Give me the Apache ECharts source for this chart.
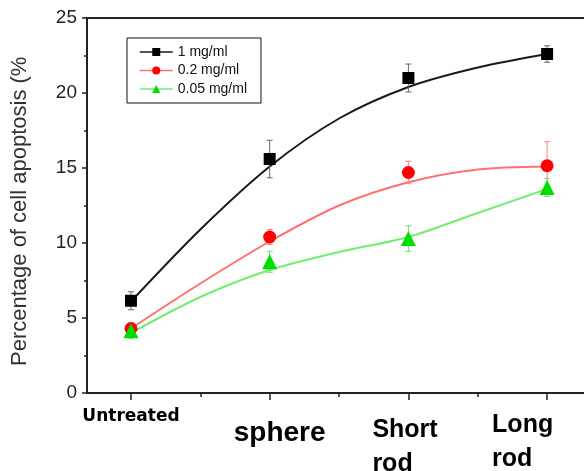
<!DOCTYPE html>
<html>
<head>
<meta charset="utf-8">
<script src="https://cdn.jsdelivr.net/npm/echarts@6/dist/echarts.min.js"></script>
<style>
  html, body { margin: 0; padding: 0; background: #fff; }
  #chart { width: 584px; height: 471px; }
</style>
</head>
<body>
<div id="chart"></div>
<script>
// category labels on the x axis (positions 0..3)
const categories = ['Untreated', 'sphere', 'Short\nrod', 'Long\nrod']
const concNames = ['1 mg/ml', '0.2 mg/ml', '0.05 mg/ml']

// measured means and error (± sd)
const mean1 = [6.15, 15.6, 21.0, 22.6]
const err1 = [0.6, 1.25, 0.93, 0.55]
const mean02 = [4.3, 10.4, 14.7, 15.15]
const err02 = [0.3, 0.5, 0.75, 1.6]
const mean005 = [4.15, 8.75, 10.3, 13.7]
const err005 = [0.5, 0.7, 0.85, 0.6]

// fitted curves, at half-category steps
const fitX = [0, 0.5, 1, 1.5, 2, 2.5, 3]
const fit1 = [6.1, 10.9, 15.1, 18.3, 20.4, 21.7, 22.6]
const fit02 = [4.3, 7.3, 10.1, 12.5, 14.05, 14.9, 15.1]
const fit005 = [4.0, 6.4, 8.2, 9.4, 10.4, 12.0, 13.6]

const majorTicks = [0, 1, 2, 3]
const minorTicks = [0.5, 1.5, 2.5]

const chart = echarts.init(document.getElementById('chart'))

const pts = arr => arr.map((v, i) => [i, v])
const fitPts = arr => arr.map((v, i) => [fitX[i], v])
const errs = (m, e) => m.map((v, i) => [i, v - e[i], v + e[i]])

const errorBar = color => (params, api) => {
  const x = api.value(0)
  const hi = api.coord([x, api.value(2)])
  const lo = api.coord([x, api.value(1)])
  const w = 3
  const st = { stroke: color, lineWidth: 1 }
  return {
    type: 'group',
    children: [
      { type: 'line', shape: { x1: hi[0], y1: hi[1], x2: lo[0], y2: lo[1] }, style: st },
      { type: 'line', shape: { x1: hi[0] - w, y1: hi[1], x2: hi[0] + w, y2: hi[1] }, style: st },
      { type: 'line', shape: { x1: lo[0] - w, y1: lo[1], x2: lo[0] + w, y2: lo[1] }, style: st }
    ]
  }
}

const groups = [
  { name: concNames[0], mean: mean1, err: err1, fit: fit1, symbol: 'rect', size: 12, color: '#000', line: '#1a1a1a', bar: '#666' },
  { name: concNames[1], mean: mean02, err: err02, fit: fit02, symbol: 'circle', size: 13, color: '#ff0000', line: '#ff7070', bar: '#ff8080' },
  { name: concNames[2], mean: mean005, err: err005, fit: fit005, symbol: 'triangle', size: 15, color: '#00dd00', line: '#70ee70', bar: '#70e070' }
]

const series = []
groups.forEach(g => {
  series.push({
    name: g.name,
    type: 'line',
    data: pts(g.mean),
    symbol: g.symbol,
    symbolSize: g.size,
    itemStyle: { color: g.color },
    lineStyle: { opacity: 0 },
    z: 5
  })
})
groups.forEach(g => {
  series.push({
    name: 'fit ' + g.name,
    type: 'line',
    data: fitPts(g.fit),
    smooth: 0.3,
    symbol: 'none',
    lineStyle: { color: g.line, width: 2 },
    silent: true,
    z: 2
  })
  series.push({
    name: 'err ' + g.name,
    type: 'custom',
    data: errs(g.mean, g.err),
    encode: { x: 0, y: [1, 2] },
    renderItem: errorBar(g.bar),
    silent: true,
    z: 3
  })
})

const xMin = -0.317
const xMax = 3.266

chart.setOption({
  animation: false,
  textStyle: { fontFamily: 'Liberation Sans' },
  grid: { left: 87, right: 0, top: 18, bottom: 78 },
  legend: {
    orient: 'vertical',
    left: 127,
    top: 38,
    padding: [7, 14, 7, 12],
    itemGap: 4.5,
    itemWidth: 33,
    itemHeight: 10,
    borderColor: '#111',
    borderWidth: 1,
    textStyle: { fontSize: 14, color: '#111', fontFamily: 'Liberation Sans' },
    data: groups.map(g => ({
      name: g.name,
      lineStyle: { color: g.line, width: 1.5, opacity: 1 }
    }))
  },
  xAxis: [
    {
      type: 'value',
      min: xMin,
      max: xMax,
      axisLine: { onZero: false, lineStyle: { color: '#222', width: 2 } },
      axisTick: { customValues: majorTicks, length: 7, lineStyle: { color: '#222', width: 1.5 } },
      axisLabel: { show: false },
      splitLine: { show: false }
    },
    {
      type: 'value',
      position: 'bottom',
      min: xMin,
      max: xMax,
      axisLine: { show: false },
      axisTick: { customValues: minorTicks, length: 4, lineStyle: { color: '#222', width: 1.5 } },
      axisLabel: { show: false },
      splitLine: { show: false }
    },
    {
      type: 'value',
      position: 'top',
      min: xMin,
      max: xMax,
      axisLine: { onZero: false, lineStyle: { color: '#222', width: 2 } },
      axisTick: { show: false },
      axisLabel: { show: false },
      splitLine: { show: false }
    }
  ],
  yAxis: {
    type: 'value',
    min: 0,
    max: 25,
    interval: 5,
    axisLine: { show: true, onZero: false, lineStyle: { color: '#222', width: 2 } },
    axisTick: { show: true, length: 5, lineStyle: { color: '#222', width: 1.5 } },
    minorTick: { show: true, splitNumber: 2, length: 3, lineStyle: { color: '#222', width: 1.5 } },
    axisLabel: { fontSize: 19, color: '#222', margin: 10 },
    splitLine: { show: false }
  },
  series
})

// tick labels drawn under the category positions
const labelStyles = [
  { font: 'bold 17px "DejaVu Sans"', dx: 0, top: 408, align: 'center', lh: 17 },
  { font: 'bold 28px "Liberation Sans"', dx: 10, top: 419.6, align: 'center', lh: 28 },
  { font: 'bold 25px "Liberation Sans"', dx: -36, top: 413.3, align: 'left', lh: 34 },
  { font: 'bold 25px "Liberation Sans"', dx: -55, top: 408.6, align: 'left', lh: 34 }
]

const graphic = categories.map((c, i) => {
  const px = chart.convertToPixel({ xAxisIndex: 0 }, i)
  const s = labelStyles[i]
  return {
    type: 'text',
    x: px + s.dx,
    y: s.top,
    style: {
      text: c,
      font: s.font,
      fill: '#000',
      align: s.align,
      verticalAlign: 'top',
      lineHeight: s.lh
    }
  }
})

graphic.push({
  type: 'text',
  x: 19.5,
  y: 366,
  rotation: Math.PI / 2,
  style: {
    text: 'Percentage of cell apoptosis (%',
    font: '22px "Liberation Sans"',
    fill: '#333',
    align: 'left',
    verticalAlign: 'middle'
  }
})

chart.setOption({ graphic })
</script>
</body>
</html>
